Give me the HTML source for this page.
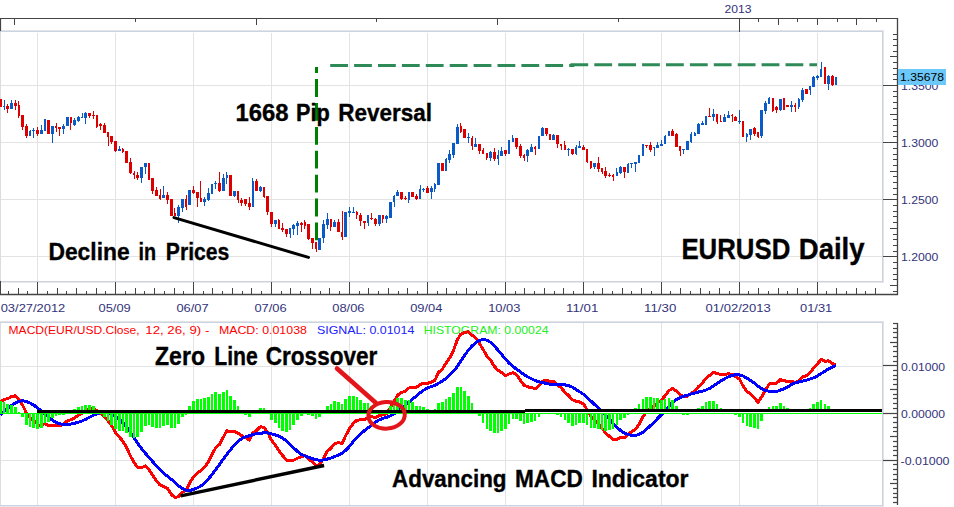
<!DOCTYPE html>
<html><head><meta charset="utf-8"><style>
html,body{margin:0;padding:0;background:#fff;width:954px;height:507px;overflow:hidden}
svg{display:block;font-family:"Liberation Sans",sans-serif}
</style></head><body>
<svg width="954" height="507" viewBox="0 0 954 507">
<rect width="954" height="507" fill="#fff"/>
<rect x="0" y="30" width="884" height="1" fill="#e4e4e4"/><rect x="883" y="30" width="1" height="253" fill="#e4e4e4"/>
<rect x="0" y="31" width="883" height="1" fill="#c9d3e3"/><rect x="882" y="31" width="1" height="251" fill="#c9d3e3"/><rect x="0" y="281" width="883" height="1" fill="#c9d3e3"/><rect x="0" y="282" width="884" height="1" fill="#e8e8e8"/>
<rect x="0" y="32" width="1" height="249" fill="#dcdcdc"/>
<rect x="0" y="281" width="1" height="14" fill="#444444"/>
<line x1="37.5" y1="33" x2="37.5" y2="281" stroke="#e3e3e3" stroke-width="1"/>
<line x1="115.5" y1="33" x2="115.5" y2="281" stroke="#e3e3e3" stroke-width="1"/>
<line x1="193.5" y1="33" x2="193.5" y2="281" stroke="#e3e3e3" stroke-width="1"/>
<line x1="271.5" y1="33" x2="271.5" y2="281" stroke="#e3e3e3" stroke-width="1"/>
<line x1="349.5" y1="33" x2="349.5" y2="281" stroke="#e3e3e3" stroke-width="1"/>
<line x1="427.5" y1="33" x2="427.5" y2="281" stroke="#e3e3e3" stroke-width="1"/>
<line x1="505.5" y1="33" x2="505.5" y2="281" stroke="#e3e3e3" stroke-width="1"/>
<line x1="583.5" y1="33" x2="583.5" y2="281" stroke="#e3e3e3" stroke-width="1"/>
<line x1="661.5" y1="33" x2="661.5" y2="281" stroke="#e3e3e3" stroke-width="1"/>
<line x1="739.5" y1="33" x2="739.5" y2="281" stroke="#e3e3e3" stroke-width="1"/>
<line x1="817.5" y1="33" x2="817.5" y2="281" stroke="#e3e3e3" stroke-width="1"/>
<line x1="1" y1="85.5" x2="882" y2="85.5" stroke="#e3e3e3" stroke-width="1"/>
<line x1="1" y1="142.5" x2="882" y2="142.5" stroke="#e3e3e3" stroke-width="1"/>
<line x1="1" y1="199.5" x2="882" y2="199.5" stroke="#e3e3e3" stroke-width="1"/>
<line x1="1" y1="256.5" x2="882" y2="256.5" stroke="#e3e3e3" stroke-width="1"/>
<line x1="0" y1="18.5" x2="898" y2="18.5" stroke="#444444" stroke-width="1.2"/>
<line x1="0.5" y1="18" x2="0.5" y2="31" stroke="#444444" stroke-width="1.2"/>
<rect x="14" y="18" width="1" height="7" fill="#444444"/>
<rect x="135" y="18" width="1" height="4" fill="#444444"/>
<rect x="256" y="18" width="1" height="7" fill="#444444"/>
<rect x="376" y="18" width="1" height="4" fill="#444444"/>
<rect x="497" y="18" width="1" height="7" fill="#444444"/>
<rect x="618" y="18" width="1" height="4" fill="#444444"/>
<rect x="739" y="18" width="1" height="14" fill="#444444"/>
<rect x="758" y="18" width="1" height="4" fill="#444444"/>
<rect x="778" y="18" width="1" height="7" fill="#444444"/>
<rect x="797" y="18" width="1" height="4" fill="#444444"/>
<rect x="817" y="18" width="1" height="7" fill="#444444"/>
<rect x="837" y="18" width="1" height="4" fill="#444444"/>
<rect x="856" y="18" width="1" height="7" fill="#444444"/>
<rect x="876" y="18" width="1" height="4" fill="#444444"/>
<text x="738" y="12.6" font-size="11" fill="#33337a" text-anchor="middle" textLength="27" lengthAdjust="spacingAndGlyphs">2013</text>
<line x1="897.5" y1="18" x2="897.5" y2="295" stroke="#444444" stroke-width="1.3"/>
<rect x="893" y="291" width="5" height="1" fill="#444444"/>
<rect x="890" y="285" width="8" height="1" fill="#444444"/>
<rect x="893" y="279" width="5" height="1" fill="#444444"/>
<rect x="893" y="274" width="5" height="1" fill="#444444"/>
<rect x="893" y="268" width="5" height="1" fill="#444444"/>
<rect x="893" y="262" width="5" height="1" fill="#444444"/>
<rect x="883" y="256" width="15" height="1" fill="#444444"/>
<rect x="893" y="251" width="5" height="1" fill="#444444"/>
<rect x="893" y="245" width="5" height="1" fill="#444444"/>
<rect x="893" y="239" width="5" height="1" fill="#444444"/>
<rect x="893" y="234" width="5" height="1" fill="#444444"/>
<rect x="890" y="228" width="8" height="1" fill="#444444"/>
<rect x="893" y="222" width="5" height="1" fill="#444444"/>
<rect x="893" y="216" width="5" height="1" fill="#444444"/>
<rect x="893" y="211" width="5" height="1" fill="#444444"/>
<rect x="893" y="205" width="5" height="1" fill="#444444"/>
<rect x="883" y="199" width="15" height="1" fill="#444444"/>
<rect x="893" y="194" width="5" height="1" fill="#444444"/>
<rect x="893" y="188" width="5" height="1" fill="#444444"/>
<rect x="893" y="182" width="5" height="1" fill="#444444"/>
<rect x="893" y="176" width="5" height="1" fill="#444444"/>
<rect x="890" y="171" width="8" height="1" fill="#444444"/>
<rect x="893" y="165" width="5" height="1" fill="#444444"/>
<rect x="893" y="159" width="5" height="1" fill="#444444"/>
<rect x="893" y="154" width="5" height="1" fill="#444444"/>
<rect x="893" y="148" width="5" height="1" fill="#444444"/>
<rect x="883" y="142" width="15" height="1" fill="#444444"/>
<rect x="893" y="136" width="5" height="1" fill="#444444"/>
<rect x="893" y="131" width="5" height="1" fill="#444444"/>
<rect x="893" y="125" width="5" height="1" fill="#444444"/>
<rect x="893" y="119" width="5" height="1" fill="#444444"/>
<rect x="890" y="114" width="8" height="1" fill="#444444"/>
<rect x="893" y="108" width="5" height="1" fill="#444444"/>
<rect x="893" y="102" width="5" height="1" fill="#444444"/>
<rect x="893" y="96" width="5" height="1" fill="#444444"/>
<rect x="893" y="91" width="5" height="1" fill="#444444"/>
<rect x="883" y="85" width="15" height="1" fill="#444444"/>
<rect x="893" y="79" width="5" height="1" fill="#444444"/>
<rect x="893" y="74" width="5" height="1" fill="#444444"/>
<rect x="893" y="68" width="5" height="1" fill="#444444"/>
<rect x="893" y="62" width="5" height="1" fill="#444444"/>
<rect x="890" y="56" width="8" height="1" fill="#444444"/>
<rect x="893" y="51" width="5" height="1" fill="#444444"/>
<rect x="893" y="45" width="5" height="1" fill="#444444"/>
<rect x="893" y="39" width="5" height="1" fill="#444444"/>
<rect x="893" y="34" width="5" height="1" fill="#444444"/>
<text x="901" y="89.6" font-size="11" fill="#33337a" textLength="37.4" lengthAdjust="spacingAndGlyphs">1.3500</text>
<text x="901" y="146.79999999999998" font-size="11" fill="#33337a" textLength="37.4" lengthAdjust="spacingAndGlyphs">1.3000</text>
<text x="901" y="203.79999999999998" font-size="11" fill="#33337a" textLength="37.4" lengthAdjust="spacingAndGlyphs">1.2500</text>
<text x="901" y="261.1" font-size="11" fill="#33337a" textLength="37.4" lengthAdjust="spacingAndGlyphs">1.2000</text>
<rect x="898" y="69" width="48" height="16" fill="#6cc8f8"/>
<text x="900" y="81" font-size="11" fill="#000" textLength="44" lengthAdjust="spacingAndGlyphs">1.35678</text>
<line x1="0" y1="294.5" x2="898" y2="294.5" stroke="#444444" stroke-width="1.3"/>
<rect x="8" y="291" width="1" height="3" fill="#444444"/>
<rect x="18" y="288" width="1" height="6" fill="#444444"/>
<rect x="27" y="291" width="1" height="3" fill="#444444"/>
<rect x="37" y="282" width="1" height="12" fill="#444444"/>
<rect x="47" y="291" width="1" height="3" fill="#444444"/>
<rect x="57" y="288" width="1" height="6" fill="#444444"/>
<rect x="66" y="291" width="1" height="3" fill="#444444"/>
<rect x="76" y="288" width="1" height="6" fill="#444444"/>
<rect x="86" y="291" width="1" height="3" fill="#444444"/>
<rect x="96" y="288" width="1" height="6" fill="#444444"/>
<rect x="105" y="291" width="1" height="3" fill="#444444"/>
<rect x="115" y="282" width="1" height="12" fill="#444444"/>
<rect x="125" y="291" width="1" height="3" fill="#444444"/>
<rect x="135" y="288" width="1" height="6" fill="#444444"/>
<rect x="144" y="291" width="1" height="3" fill="#444444"/>
<rect x="154" y="288" width="1" height="6" fill="#444444"/>
<rect x="164" y="291" width="1" height="3" fill="#444444"/>
<rect x="174" y="288" width="1" height="6" fill="#444444"/>
<rect x="183" y="291" width="1" height="3" fill="#444444"/>
<rect x="193" y="282" width="1" height="12" fill="#444444"/>
<rect x="203" y="291" width="1" height="3" fill="#444444"/>
<rect x="212" y="288" width="1" height="6" fill="#444444"/>
<rect x="222" y="291" width="1" height="3" fill="#444444"/>
<rect x="232" y="288" width="1" height="6" fill="#444444"/>
<rect x="242" y="291" width="1" height="3" fill="#444444"/>
<rect x="251" y="288" width="1" height="6" fill="#444444"/>
<rect x="261" y="291" width="1" height="3" fill="#444444"/>
<rect x="271" y="282" width="1" height="12" fill="#444444"/>
<rect x="281" y="291" width="1" height="3" fill="#444444"/>
<rect x="290" y="288" width="1" height="6" fill="#444444"/>
<rect x="300" y="291" width="1" height="3" fill="#444444"/>
<rect x="310" y="288" width="1" height="6" fill="#444444"/>
<rect x="320" y="291" width="1" height="3" fill="#444444"/>
<rect x="329" y="288" width="1" height="6" fill="#444444"/>
<rect x="339" y="291" width="1" height="3" fill="#444444"/>
<rect x="349" y="282" width="1" height="12" fill="#444444"/>
<rect x="359" y="291" width="1" height="3" fill="#444444"/>
<rect x="368" y="288" width="1" height="6" fill="#444444"/>
<rect x="378" y="291" width="1" height="3" fill="#444444"/>
<rect x="388" y="288" width="1" height="6" fill="#444444"/>
<rect x="398" y="291" width="1" height="3" fill="#444444"/>
<rect x="407" y="288" width="1" height="6" fill="#444444"/>
<rect x="417" y="291" width="1" height="3" fill="#444444"/>
<rect x="427" y="282" width="1" height="12" fill="#444444"/>
<rect x="437" y="291" width="1" height="3" fill="#444444"/>
<rect x="446" y="288" width="1" height="6" fill="#444444"/>
<rect x="456" y="291" width="1" height="3" fill="#444444"/>
<rect x="466" y="288" width="1" height="6" fill="#444444"/>
<rect x="476" y="291" width="1" height="3" fill="#444444"/>
<rect x="485" y="288" width="1" height="6" fill="#444444"/>
<rect x="495" y="291" width="1" height="3" fill="#444444"/>
<rect x="505" y="282" width="1" height="12" fill="#444444"/>
<rect x="515" y="291" width="1" height="3" fill="#444444"/>
<rect x="524" y="288" width="1" height="6" fill="#444444"/>
<rect x="534" y="291" width="1" height="3" fill="#444444"/>
<rect x="544" y="288" width="1" height="6" fill="#444444"/>
<rect x="554" y="291" width="1" height="3" fill="#444444"/>
<rect x="563" y="288" width="1" height="6" fill="#444444"/>
<rect x="573" y="291" width="1" height="3" fill="#444444"/>
<rect x="583" y="282" width="1" height="12" fill="#444444"/>
<rect x="593" y="291" width="1" height="3" fill="#444444"/>
<rect x="602" y="288" width="1" height="6" fill="#444444"/>
<rect x="612" y="291" width="1" height="3" fill="#444444"/>
<rect x="622" y="288" width="1" height="6" fill="#444444"/>
<rect x="631" y="291" width="1" height="3" fill="#444444"/>
<rect x="641" y="288" width="1" height="6" fill="#444444"/>
<rect x="651" y="291" width="1" height="3" fill="#444444"/>
<rect x="661" y="282" width="1" height="12" fill="#444444"/>
<rect x="670" y="291" width="1" height="3" fill="#444444"/>
<rect x="680" y="288" width="1" height="6" fill="#444444"/>
<rect x="690" y="291" width="1" height="3" fill="#444444"/>
<rect x="700" y="288" width="1" height="6" fill="#444444"/>
<rect x="709" y="291" width="1" height="3" fill="#444444"/>
<rect x="719" y="288" width="1" height="6" fill="#444444"/>
<rect x="729" y="291" width="1" height="3" fill="#444444"/>
<rect x="739" y="282" width="1" height="12" fill="#444444"/>
<rect x="748" y="291" width="1" height="3" fill="#444444"/>
<rect x="758" y="288" width="1" height="6" fill="#444444"/>
<rect x="768" y="291" width="1" height="3" fill="#444444"/>
<rect x="778" y="288" width="1" height="6" fill="#444444"/>
<rect x="787" y="291" width="1" height="3" fill="#444444"/>
<rect x="797" y="288" width="1" height="6" fill="#444444"/>
<rect x="807" y="291" width="1" height="3" fill="#444444"/>
<rect x="817" y="282" width="1" height="12" fill="#444444"/>
<rect x="826" y="291" width="1" height="3" fill="#444444"/>
<rect x="836" y="288" width="1" height="6" fill="#444444"/>
<rect x="846" y="291" width="1" height="3" fill="#444444"/>
<rect x="856" y="288" width="1" height="6" fill="#444444"/>
<rect x="865" y="291" width="1" height="3" fill="#444444"/>
<rect x="875" y="288" width="1" height="6" fill="#444444"/>
<text x="0.7" y="312" font-size="11" fill="#33337a" textLength="64.6" lengthAdjust="spacingAndGlyphs">03/27/2012</text>
<text x="98.5" y="312" font-size="11" fill="#33337a" textLength="32.2" lengthAdjust="spacingAndGlyphs">05/09</text>
<text x="176.4" y="312" font-size="11" fill="#33337a" textLength="32.2" lengthAdjust="spacingAndGlyphs">06/07</text>
<text x="254.4" y="312" font-size="11" fill="#33337a" textLength="32.2" lengthAdjust="spacingAndGlyphs">07/06</text>
<text x="332.3" y="312" font-size="11" fill="#33337a" textLength="32.2" lengthAdjust="spacingAndGlyphs">08/06</text>
<text x="410.2" y="312" font-size="11" fill="#33337a" textLength="32.2" lengthAdjust="spacingAndGlyphs">09/04</text>
<text x="488.2" y="312" font-size="11" fill="#33337a" textLength="32.2" lengthAdjust="spacingAndGlyphs">10/03</text>
<text x="566.1" y="312" font-size="11" fill="#33337a" textLength="32.2" lengthAdjust="spacingAndGlyphs">11/01</text>
<text x="644.1" y="312" font-size="11" fill="#33337a" textLength="32.2" lengthAdjust="spacingAndGlyphs">11/30</text>
<text x="705.6" y="312" font-size="11" fill="#33337a" textLength="65.2" lengthAdjust="spacingAndGlyphs">01/02/2013</text>
<text x="800.0" y="312" font-size="11" fill="#33337a" textLength="32.2" lengthAdjust="spacingAndGlyphs">01/31</text>
<line x1="316.5" y1="67" x2="316.5" y2="241" stroke="#008000" stroke-width="3" stroke-dasharray="17.8 6.1" stroke-dashoffset="11.80"/>
<line x1="570.4" y1="64.7" x2="817" y2="64.7" stroke="#2e8b57" stroke-width="3" stroke-dasharray="17.8 6.1"/>
<line x1="330.2" y1="65.5" x2="574.3" y2="65.5" stroke="#2e8b57" stroke-width="3" stroke-dasharray="17.8 6.1"/>
<rect x="0" y="99" width="1" height="8" fill="#dd0000"/>
<rect x="-1" y="99" width="3" height="8" fill="#dd0000"/>
<rect x="4" y="100" width="1" height="10" fill="#0a5ac8"/>
<rect x="3" y="106" width="2" height="1" fill="#0a5ac8"/>
<rect x="7" y="104" width="1" height="9" fill="#dd0000"/>
<rect x="6" y="106" width="3" height="3" fill="#dd0000"/>
<rect x="11" y="100" width="1" height="9" fill="#0a5ac8"/>
<rect x="10" y="103" width="3" height="6" fill="#0a5ac8"/>
<rect x="15" y="100" width="1" height="10" fill="#dd0000"/>
<rect x="14" y="103" width="3" height="3" fill="#dd0000"/>
<rect x="18" y="101" width="1" height="17" fill="#dd0000"/>
<rect x="18" y="105" width="2" height="11" fill="#dd0000"/>
<rect x="22" y="115" width="1" height="15" fill="#dd0000"/>
<rect x="21" y="115" width="3" height="12" fill="#dd0000"/>
<rect x="26" y="124" width="1" height="14" fill="#dd0000"/>
<rect x="25" y="126" width="3" height="10" fill="#dd0000"/>
<rect x="30" y="130" width="1" height="6" fill="#0a5ac8"/>
<rect x="29" y="131" width="2" height="5" fill="#0a5ac8"/>
<rect x="33" y="128" width="1" height="10" fill="#0a5ac8"/>
<rect x="32" y="130" width="3" height="1" fill="#0a5ac8"/>
<rect x="37" y="127" width="1" height="9" fill="#dd0000"/>
<rect x="36" y="130" width="3" height="4" fill="#dd0000"/>
<rect x="41" y="125" width="1" height="9" fill="#0a5ac8"/>
<rect x="40" y="130" width="3" height="4" fill="#0a5ac8"/>
<rect x="44" y="119" width="1" height="12" fill="#0a5ac8"/>
<rect x="44" y="119" width="2" height="12" fill="#0a5ac8"/>
<rect x="48" y="120" width="1" height="14" fill="#dd0000"/>
<rect x="47" y="120" width="3" height="14" fill="#dd0000"/>
<rect x="52" y="126" width="1" height="17" fill="#0a5ac8"/>
<rect x="51" y="126" width="3" height="8" fill="#0a5ac8"/>
<rect x="56" y="123" width="1" height="9" fill="#dd0000"/>
<rect x="55" y="126" width="2" height="2" fill="#dd0000"/>
<rect x="59" y="127" width="1" height="9" fill="#dd0000"/>
<rect x="58" y="127" width="3" height="2" fill="#dd0000"/>
<rect x="63" y="124" width="1" height="10" fill="#0a5ac8"/>
<rect x="62" y="126" width="3" height="3" fill="#0a5ac8"/>
<rect x="67" y="117" width="1" height="9" fill="#0a5ac8"/>
<rect x="66" y="117" width="3" height="9" fill="#0a5ac8"/>
<rect x="70" y="117" width="1" height="13" fill="#dd0000"/>
<rect x="70" y="117" width="2" height="6" fill="#dd0000"/>
<rect x="74" y="118" width="1" height="8" fill="#0a5ac8"/>
<rect x="73" y="120" width="3" height="5" fill="#0a5ac8"/>
<rect x="78" y="116" width="1" height="6" fill="#0a5ac8"/>
<rect x="77" y="117" width="3" height="4" fill="#0a5ac8"/>
<rect x="82" y="113" width="1" height="5" fill="#0a5ac8"/>
<rect x="81" y="117" width="2" height="1" fill="#0a5ac8"/>
<rect x="85" y="112" width="1" height="12" fill="#0a5ac8"/>
<rect x="84" y="113" width="3" height="5" fill="#0a5ac8"/>
<rect x="89" y="113" width="1" height="5" fill="#dd0000"/>
<rect x="88" y="113" width="3" height="3" fill="#dd0000"/>
<rect x="93" y="111" width="1" height="8" fill="#dd0000"/>
<rect x="92" y="115" width="3" height="1" fill="#dd0000"/>
<rect x="96" y="115" width="1" height="13" fill="#dd0000"/>
<rect x="96" y="115" width="2" height="12" fill="#dd0000"/>
<rect x="100" y="123" width="1" height="7" fill="#dd0000"/>
<rect x="99" y="124" width="3" height="2" fill="#dd0000"/>
<rect x="104" y="123" width="1" height="10" fill="#dd0000"/>
<rect x="103" y="125" width="3" height="8" fill="#dd0000"/>
<rect x="108" y="132" width="1" height="14" fill="#dd0000"/>
<rect x="107" y="132" width="2" height="5" fill="#dd0000"/>
<rect x="111" y="136" width="1" height="8" fill="#dd0000"/>
<rect x="110" y="136" width="3" height="6" fill="#dd0000"/>
<rect x="115" y="141" width="1" height="11" fill="#dd0000"/>
<rect x="114" y="141" width="3" height="10" fill="#dd0000"/>
<rect x="119" y="146" width="1" height="5" fill="#0a5ac8"/>
<rect x="118" y="149" width="3" height="2" fill="#0a5ac8"/>
<rect x="122" y="148" width="1" height="5" fill="#dd0000"/>
<rect x="122" y="149" width="2" height="3" fill="#dd0000"/>
<rect x="126" y="151" width="1" height="12" fill="#dd0000"/>
<rect x="125" y="151" width="3" height="12" fill="#dd0000"/>
<rect x="130" y="158" width="1" height="16" fill="#dd0000"/>
<rect x="129" y="162" width="3" height="11" fill="#dd0000"/>
<rect x="134" y="171" width="1" height="8" fill="#dd0000"/>
<rect x="133" y="173" width="2" height="2" fill="#dd0000"/>
<rect x="137" y="172" width="1" height="8" fill="#dd0000"/>
<rect x="136" y="175" width="3" height="3" fill="#dd0000"/>
<rect x="141" y="167" width="1" height="16" fill="#0a5ac8"/>
<rect x="140" y="167" width="3" height="11" fill="#0a5ac8"/>
<rect x="145" y="163" width="1" height="11" fill="#0a5ac8"/>
<rect x="144" y="163" width="3" height="4" fill="#0a5ac8"/>
<rect x="148" y="163" width="1" height="17" fill="#dd0000"/>
<rect x="148" y="163" width="2" height="17" fill="#dd0000"/>
<rect x="152" y="178" width="1" height="16" fill="#dd0000"/>
<rect x="151" y="178" width="3" height="13" fill="#dd0000"/>
<rect x="156" y="187" width="1" height="9" fill="#dd0000"/>
<rect x="155" y="190" width="3" height="6" fill="#dd0000"/>
<rect x="160" y="189" width="1" height="11" fill="#dd0000"/>
<rect x="159" y="195" width="2" height="4" fill="#dd0000"/>
<rect x="163" y="186" width="1" height="12" fill="#0a5ac8"/>
<rect x="162" y="195" width="3" height="3" fill="#0a5ac8"/>
<rect x="167" y="192" width="1" height="12" fill="#dd0000"/>
<rect x="166" y="195" width="3" height="5" fill="#dd0000"/>
<rect x="171" y="199" width="1" height="17" fill="#dd0000"/>
<rect x="170" y="199" width="3" height="17" fill="#dd0000"/>
<rect x="174" y="208" width="1" height="8" fill="#dd0000"/>
<rect x="174" y="213" width="2" height="3" fill="#dd0000"/>
<rect x="178" y="205" width="1" height="18" fill="#0a5ac8"/>
<rect x="177" y="207" width="3" height="9" fill="#0a5ac8"/>
<rect x="182" y="199" width="1" height="13" fill="#0a5ac8"/>
<rect x="181" y="199" width="3" height="9" fill="#0a5ac8"/>
<rect x="186" y="195" width="1" height="15" fill="#dd0000"/>
<rect x="185" y="199" width="2" height="8" fill="#dd0000"/>
<rect x="189" y="190" width="1" height="15" fill="#0a5ac8"/>
<rect x="188" y="190" width="3" height="15" fill="#0a5ac8"/>
<rect x="193" y="186" width="1" height="8" fill="#dd0000"/>
<rect x="192" y="190" width="3" height="3" fill="#dd0000"/>
<rect x="197" y="192" width="1" height="15" fill="#dd0000"/>
<rect x="196" y="192" width="3" height="6" fill="#dd0000"/>
<rect x="200" y="181" width="1" height="21" fill="#dd0000"/>
<rect x="200" y="198" width="2" height="4" fill="#dd0000"/>
<rect x="204" y="197" width="1" height="9" fill="#0a5ac8"/>
<rect x="203" y="199" width="3" height="3" fill="#0a5ac8"/>
<rect x="208" y="188" width="1" height="13" fill="#0a5ac8"/>
<rect x="207" y="193" width="3" height="7" fill="#0a5ac8"/>
<rect x="212" y="184" width="1" height="10" fill="#0a5ac8"/>
<rect x="211" y="184" width="2" height="10" fill="#0a5ac8"/>
<rect x="215" y="181" width="1" height="8" fill="#0a5ac8"/>
<rect x="214" y="183" width="3" height="1" fill="#0a5ac8"/>
<rect x="219" y="172" width="1" height="20" fill="#dd0000"/>
<rect x="218" y="183" width="3" height="8" fill="#dd0000"/>
<rect x="223" y="174" width="1" height="17" fill="#0a5ac8"/>
<rect x="222" y="178" width="3" height="13" fill="#0a5ac8"/>
<rect x="226" y="172" width="1" height="12" fill="#0a5ac8"/>
<rect x="226" y="175" width="2" height="3" fill="#0a5ac8"/>
<rect x="230" y="175" width="1" height="21" fill="#dd0000"/>
<rect x="229" y="175" width="3" height="21" fill="#dd0000"/>
<rect x="234" y="191" width="1" height="6" fill="#0a5ac8"/>
<rect x="233" y="191" width="3" height="5" fill="#0a5ac8"/>
<rect x="238" y="191" width="1" height="12" fill="#dd0000"/>
<rect x="237" y="191" width="2" height="9" fill="#dd0000"/>
<rect x="241" y="198" width="1" height="8" fill="#dd0000"/>
<rect x="240" y="200" width="3" height="3" fill="#dd0000"/>
<rect x="245" y="199" width="1" height="7" fill="#dd0000"/>
<rect x="244" y="199" width="3" height="5" fill="#dd0000"/>
<rect x="249" y="197" width="1" height="13" fill="#dd0000"/>
<rect x="248" y="203" width="3" height="4" fill="#dd0000"/>
<rect x="252" y="178" width="1" height="29" fill="#0a5ac8"/>
<rect x="252" y="181" width="2" height="26" fill="#0a5ac8"/>
<rect x="256" y="179" width="1" height="12" fill="#dd0000"/>
<rect x="255" y="181" width="3" height="10" fill="#dd0000"/>
<rect x="260" y="186" width="1" height="6" fill="#0a5ac8"/>
<rect x="259" y="187" width="3" height="4" fill="#0a5ac8"/>
<rect x="264" y="187" width="1" height="11" fill="#dd0000"/>
<rect x="263" y="187" width="2" height="10" fill="#dd0000"/>
<rect x="267" y="196" width="1" height="19" fill="#dd0000"/>
<rect x="266" y="196" width="3" height="16" fill="#dd0000"/>
<rect x="271" y="212" width="1" height="15" fill="#dd0000"/>
<rect x="270" y="212" width="3" height="12" fill="#dd0000"/>
<rect x="275" y="220" width="1" height="7" fill="#0a5ac8"/>
<rect x="274" y="220" width="3" height="4" fill="#0a5ac8"/>
<rect x="278" y="219" width="1" height="10" fill="#dd0000"/>
<rect x="278" y="220" width="2" height="9" fill="#dd0000"/>
<rect x="282" y="223" width="1" height="9" fill="#dd0000"/>
<rect x="281" y="228" width="3" height="2" fill="#dd0000"/>
<rect x="286" y="229" width="1" height="8" fill="#dd0000"/>
<rect x="285" y="229" width="3" height="5" fill="#dd0000"/>
<rect x="290" y="228" width="1" height="10" fill="#0a5ac8"/>
<rect x="289" y="228" width="2" height="6" fill="#0a5ac8"/>
<rect x="293" y="224" width="1" height="11" fill="#0a5ac8"/>
<rect x="292" y="225" width="3" height="4" fill="#0a5ac8"/>
<rect x="297" y="221" width="1" height="14" fill="#0a5ac8"/>
<rect x="296" y="223" width="3" height="3" fill="#0a5ac8"/>
<rect x="301" y="222" width="1" height="10" fill="#dd0000"/>
<rect x="300" y="223" width="3" height="2" fill="#dd0000"/>
<rect x="304" y="220" width="1" height="9" fill="#dd0000"/>
<rect x="304" y="222" width="2" height="4" fill="#dd0000"/>
<rect x="308" y="224" width="1" height="16" fill="#dd0000"/>
<rect x="307" y="224" width="3" height="15" fill="#dd0000"/>
<rect x="312" y="238" width="1" height="11" fill="#dd0000"/>
<rect x="311" y="238" width="3" height="5" fill="#dd0000"/>
<rect x="316" y="242" width="1" height="10" fill="#dd0000"/>
<rect x="315" y="242" width="2" height="7" fill="#dd0000"/>
<rect x="319" y="238" width="1" height="12" fill="#0a5ac8"/>
<rect x="318" y="238" width="3" height="12" fill="#0a5ac8"/>
<rect x="323" y="220" width="1" height="23" fill="#0a5ac8"/>
<rect x="322" y="224" width="3" height="14" fill="#0a5ac8"/>
<rect x="327" y="213" width="1" height="16" fill="#0a5ac8"/>
<rect x="326" y="219" width="3" height="6" fill="#0a5ac8"/>
<rect x="330" y="219" width="1" height="12" fill="#dd0000"/>
<rect x="330" y="219" width="2" height="8" fill="#dd0000"/>
<rect x="334" y="220" width="1" height="7" fill="#0a5ac8"/>
<rect x="333" y="222" width="3" height="5" fill="#0a5ac8"/>
<rect x="338" y="219" width="1" height="13" fill="#dd0000"/>
<rect x="337" y="222" width="3" height="10" fill="#dd0000"/>
<rect x="342" y="211" width="1" height="29" fill="#dd0000"/>
<rect x="341" y="232" width="2" height="5" fill="#dd0000"/>
<rect x="345" y="212" width="1" height="25" fill="#0a5ac8"/>
<rect x="344" y="212" width="3" height="25" fill="#0a5ac8"/>
<rect x="349" y="207" width="1" height="10" fill="#0a5ac8"/>
<rect x="348" y="211" width="3" height="2" fill="#0a5ac8"/>
<rect x="353" y="207" width="1" height="6" fill="#0a5ac8"/>
<rect x="352" y="212" width="3" height="1" fill="#0a5ac8"/>
<rect x="356" y="211" width="1" height="8" fill="#dd0000"/>
<rect x="356" y="212" width="2" height="3" fill="#dd0000"/>
<rect x="360" y="213" width="1" height="13" fill="#dd0000"/>
<rect x="359" y="215" width="3" height="6" fill="#dd0000"/>
<rect x="364" y="221" width="1" height="8" fill="#dd0000"/>
<rect x="363" y="221" width="3" height="2" fill="#dd0000"/>
<rect x="368" y="215" width="1" height="11" fill="#0a5ac8"/>
<rect x="367" y="215" width="2" height="8" fill="#0a5ac8"/>
<rect x="371" y="213" width="1" height="7" fill="#dd0000"/>
<rect x="370" y="218" width="3" height="1" fill="#dd0000"/>
<rect x="375" y="218" width="1" height="8" fill="#dd0000"/>
<rect x="374" y="219" width="3" height="5" fill="#dd0000"/>
<rect x="379" y="215" width="1" height="11" fill="#0a5ac8"/>
<rect x="378" y="215" width="3" height="9" fill="#0a5ac8"/>
<rect x="382" y="215" width="1" height="8" fill="#dd0000"/>
<rect x="382" y="215" width="2" height="4" fill="#dd0000"/>
<rect x="386" y="215" width="1" height="8" fill="#0a5ac8"/>
<rect x="385" y="216" width="3" height="3" fill="#0a5ac8"/>
<rect x="390" y="202" width="1" height="16" fill="#0a5ac8"/>
<rect x="389" y="202" width="3" height="16" fill="#0a5ac8"/>
<rect x="394" y="195" width="1" height="12" fill="#0a5ac8"/>
<rect x="393" y="196" width="2" height="6" fill="#0a5ac8"/>
<rect x="397" y="190" width="1" height="6" fill="#0a5ac8"/>
<rect x="396" y="192" width="3" height="4" fill="#0a5ac8"/>
<rect x="401" y="192" width="1" height="8" fill="#dd0000"/>
<rect x="400" y="192" width="3" height="7" fill="#dd0000"/>
<rect x="405" y="196" width="1" height="4" fill="#dd0000"/>
<rect x="404" y="198" width="3" height="1" fill="#dd0000"/>
<rect x="408" y="192" width="1" height="11" fill="#0a5ac8"/>
<rect x="408" y="192" width="2" height="8" fill="#0a5ac8"/>
<rect x="412" y="192" width="1" height="5" fill="#dd0000"/>
<rect x="411" y="192" width="3" height="5" fill="#dd0000"/>
<rect x="416" y="194" width="1" height="6" fill="#dd0000"/>
<rect x="415" y="196" width="3" height="3" fill="#dd0000"/>
<rect x="420" y="185" width="1" height="14" fill="#0a5ac8"/>
<rect x="419" y="189" width="2" height="10" fill="#0a5ac8"/>
<rect x="423" y="188" width="1" height="4" fill="#0a5ac8"/>
<rect x="422" y="189" width="3" height="1" fill="#0a5ac8"/>
<rect x="427" y="186" width="1" height="7" fill="#dd0000"/>
<rect x="426" y="188" width="3" height="5" fill="#dd0000"/>
<rect x="431" y="186" width="1" height="13" fill="#0a5ac8"/>
<rect x="430" y="188" width="3" height="4" fill="#0a5ac8"/>
<rect x="434" y="183" width="1" height="9" fill="#0a5ac8"/>
<rect x="434" y="184" width="2" height="5" fill="#0a5ac8"/>
<rect x="438" y="163" width="1" height="22" fill="#0a5ac8"/>
<rect x="437" y="163" width="3" height="22" fill="#0a5ac8"/>
<rect x="442" y="163" width="1" height="8" fill="#dd0000"/>
<rect x="441" y="163" width="3" height="8" fill="#dd0000"/>
<rect x="446" y="158" width="1" height="13" fill="#0a5ac8"/>
<rect x="445" y="159" width="2" height="12" fill="#0a5ac8"/>
<rect x="449" y="150" width="1" height="13" fill="#0a5ac8"/>
<rect x="448" y="154" width="3" height="6" fill="#0a5ac8"/>
<rect x="453" y="143" width="1" height="15" fill="#0a5ac8"/>
<rect x="452" y="143" width="3" height="12" fill="#0a5ac8"/>
<rect x="457" y="124" width="1" height="20" fill="#0a5ac8"/>
<rect x="456" y="127" width="3" height="17" fill="#0a5ac8"/>
<rect x="460" y="123" width="1" height="10" fill="#dd0000"/>
<rect x="460" y="126" width="2" height="6" fill="#dd0000"/>
<rect x="464" y="129" width="1" height="9" fill="#dd0000"/>
<rect x="463" y="129" width="3" height="9" fill="#dd0000"/>
<rect x="468" y="133" width="1" height="10" fill="#0a5ac8"/>
<rect x="467" y="137" width="3" height="1" fill="#0a5ac8"/>
<rect x="472" y="136" width="1" height="14" fill="#dd0000"/>
<rect x="471" y="138" width="2" height="8" fill="#dd0000"/>
<rect x="475" y="138" width="1" height="9" fill="#0a5ac8"/>
<rect x="474" y="144" width="3" height="3" fill="#0a5ac8"/>
<rect x="479" y="144" width="1" height="10" fill="#dd0000"/>
<rect x="478" y="144" width="3" height="7" fill="#dd0000"/>
<rect x="483" y="148" width="1" height="6" fill="#dd0000"/>
<rect x="482" y="150" width="2" height="4" fill="#dd0000"/>
<rect x="486" y="153" width="1" height="7" fill="#dd0000"/>
<rect x="486" y="153" width="2" height="5" fill="#dd0000"/>
<rect x="490" y="151" width="1" height="10" fill="#0a5ac8"/>
<rect x="489" y="152" width="3" height="6" fill="#0a5ac8"/>
<rect x="494" y="148" width="1" height="13" fill="#dd0000"/>
<rect x="493" y="152" width="3" height="7" fill="#dd0000"/>
<rect x="498" y="150" width="1" height="15" fill="#0a5ac8"/>
<rect x="497" y="155" width="2" height="4" fill="#0a5ac8"/>
<rect x="501" y="147" width="1" height="9" fill="#0a5ac8"/>
<rect x="500" y="151" width="3" height="5" fill="#0a5ac8"/>
<rect x="505" y="150" width="1" height="6" fill="#dd0000"/>
<rect x="504" y="150" width="3" height="4" fill="#dd0000"/>
<rect x="509" y="140" width="1" height="14" fill="#0a5ac8"/>
<rect x="508" y="140" width="2" height="14" fill="#0a5ac8"/>
<rect x="512" y="135" width="1" height="7" fill="#0a5ac8"/>
<rect x="512" y="138" width="2" height="4" fill="#0a5ac8"/>
<rect x="516" y="138" width="1" height="11" fill="#dd0000"/>
<rect x="515" y="138" width="3" height="9" fill="#dd0000"/>
<rect x="520" y="144" width="1" height="14" fill="#dd0000"/>
<rect x="519" y="146" width="3" height="10" fill="#dd0000"/>
<rect x="524" y="154" width="1" height="7" fill="#dd0000"/>
<rect x="523" y="155" width="2" height="3" fill="#dd0000"/>
<rect x="527" y="149" width="1" height="13" fill="#0a5ac8"/>
<rect x="526" y="150" width="3" height="6" fill="#0a5ac8"/>
<rect x="531" y="144" width="1" height="8" fill="#0a5ac8"/>
<rect x="530" y="147" width="3" height="5" fill="#0a5ac8"/>
<rect x="535" y="146" width="1" height="9" fill="#dd0000"/>
<rect x="534" y="147" width="2" height="2" fill="#dd0000"/>
<rect x="538" y="136" width="1" height="13" fill="#0a5ac8"/>
<rect x="538" y="136" width="2" height="13" fill="#0a5ac8"/>
<rect x="542" y="127" width="1" height="9" fill="#0a5ac8"/>
<rect x="541" y="128" width="3" height="8" fill="#0a5ac8"/>
<rect x="546" y="128" width="1" height="8" fill="#dd0000"/>
<rect x="545" y="128" width="3" height="6" fill="#dd0000"/>
<rect x="550" y="134" width="1" height="6" fill="#dd0000"/>
<rect x="549" y="134" width="2" height="6" fill="#dd0000"/>
<rect x="553" y="134" width="1" height="6" fill="#0a5ac8"/>
<rect x="552" y="135" width="3" height="5" fill="#0a5ac8"/>
<rect x="557" y="135" width="1" height="13" fill="#dd0000"/>
<rect x="556" y="135" width="3" height="9" fill="#dd0000"/>
<rect x="561" y="144" width="1" height="6" fill="#dd0000"/>
<rect x="560" y="144" width="2" height="2" fill="#dd0000"/>
<rect x="564" y="141" width="1" height="9" fill="#dd0000"/>
<rect x="564" y="145" width="2" height="5" fill="#dd0000"/>
<rect x="568" y="148" width="1" height="8" fill="#0a5ac8"/>
<rect x="567" y="149" width="3" height="1" fill="#0a5ac8"/>
<rect x="572" y="149" width="1" height="6" fill="#dd0000"/>
<rect x="571" y="149" width="3" height="5" fill="#dd0000"/>
<rect x="576" y="145" width="1" height="10" fill="#0a5ac8"/>
<rect x="575" y="147" width="2" height="7" fill="#0a5ac8"/>
<rect x="579" y="141" width="1" height="7" fill="#0a5ac8"/>
<rect x="578" y="146" width="3" height="2" fill="#0a5ac8"/>
<rect x="583" y="145" width="1" height="5" fill="#dd0000"/>
<rect x="582" y="147" width="3" height="3" fill="#dd0000"/>
<rect x="587" y="149" width="1" height="14" fill="#dd0000"/>
<rect x="586" y="149" width="2" height="13" fill="#dd0000"/>
<rect x="590" y="161" width="1" height="8" fill="#dd0000"/>
<rect x="590" y="161" width="2" height="7" fill="#dd0000"/>
<rect x="594" y="163" width="1" height="6" fill="#0a5ac8"/>
<rect x="593" y="163" width="3" height="4" fill="#0a5ac8"/>
<rect x="598" y="157" width="1" height="15" fill="#dd0000"/>
<rect x="597" y="163" width="3" height="6" fill="#dd0000"/>
<rect x="602" y="168" width="1" height="6" fill="#dd0000"/>
<rect x="601" y="168" width="2" height="4" fill="#dd0000"/>
<rect x="605" y="167" width="1" height="11" fill="#dd0000"/>
<rect x="604" y="171" width="3" height="5" fill="#dd0000"/>
<rect x="609" y="173" width="1" height="4" fill="#dd0000"/>
<rect x="608" y="175" width="3" height="1" fill="#dd0000"/>
<rect x="613" y="174" width="1" height="7" fill="#dd0000"/>
<rect x="612" y="175" width="2" height="2" fill="#dd0000"/>
<rect x="616" y="168" width="1" height="8" fill="#0a5ac8"/>
<rect x="616" y="172" width="2" height="4" fill="#0a5ac8"/>
<rect x="620" y="166" width="1" height="8" fill="#0a5ac8"/>
<rect x="619" y="167" width="3" height="6" fill="#0a5ac8"/>
<rect x="624" y="167" width="1" height="11" fill="#dd0000"/>
<rect x="623" y="167" width="3" height="5" fill="#dd0000"/>
<rect x="628" y="163" width="1" height="10" fill="#0a5ac8"/>
<rect x="627" y="164" width="2" height="9" fill="#0a5ac8"/>
<rect x="631" y="163" width="1" height="5" fill="#0a5ac8"/>
<rect x="630" y="163" width="3" height="1" fill="#0a5ac8"/>
<rect x="635" y="162" width="1" height="10" fill="#0a5ac8"/>
<rect x="634" y="162" width="3" height="2" fill="#0a5ac8"/>
<rect x="639" y="155" width="1" height="8" fill="#0a5ac8"/>
<rect x="638" y="155" width="2" height="8" fill="#0a5ac8"/>
<rect x="642" y="144" width="1" height="12" fill="#0a5ac8"/>
<rect x="642" y="144" width="2" height="12" fill="#0a5ac8"/>
<rect x="646" y="145" width="1" height="3" fill="#dd0000"/>
<rect x="645" y="145" width="3" height="1" fill="#dd0000"/>
<rect x="650" y="142" width="1" height="10" fill="#dd0000"/>
<rect x="649" y="145" width="3" height="5" fill="#dd0000"/>
<rect x="654" y="147" width="1" height="9" fill="#0a5ac8"/>
<rect x="653" y="147" width="2" height="1" fill="#0a5ac8"/>
<rect x="657" y="142" width="1" height="6" fill="#0a5ac8"/>
<rect x="656" y="145" width="3" height="3" fill="#0a5ac8"/>
<rect x="661" y="140" width="1" height="6" fill="#0a5ac8"/>
<rect x="660" y="144" width="3" height="2" fill="#0a5ac8"/>
<rect x="665" y="135" width="1" height="9" fill="#0a5ac8"/>
<rect x="664" y="136" width="2" height="8" fill="#0a5ac8"/>
<rect x="668" y="131" width="1" height="5" fill="#0a5ac8"/>
<rect x="668" y="131" width="2" height="5" fill="#0a5ac8"/>
<rect x="672" y="129" width="1" height="7" fill="#dd0000"/>
<rect x="671" y="131" width="3" height="5" fill="#dd0000"/>
<rect x="676" y="133" width="1" height="14" fill="#dd0000"/>
<rect x="675" y="134" width="3" height="13" fill="#dd0000"/>
<rect x="680" y="146" width="1" height="10" fill="#dd0000"/>
<rect x="679" y="146" width="2" height="5" fill="#dd0000"/>
<rect x="683" y="149" width="1" height="5" fill="#0a5ac8"/>
<rect x="682" y="149" width="3" height="1" fill="#0a5ac8"/>
<rect x="687" y="141" width="1" height="9" fill="#0a5ac8"/>
<rect x="686" y="141" width="3" height="9" fill="#0a5ac8"/>
<rect x="691" y="132" width="1" height="11" fill="#0a5ac8"/>
<rect x="690" y="134" width="2" height="8" fill="#0a5ac8"/>
<rect x="694" y="132" width="1" height="4" fill="#0a5ac8"/>
<rect x="694" y="133" width="2" height="3" fill="#0a5ac8"/>
<rect x="698" y="123" width="1" height="11" fill="#0a5ac8"/>
<rect x="697" y="124" width="3" height="10" fill="#0a5ac8"/>
<rect x="702" y="121" width="1" height="4" fill="#0a5ac8"/>
<rect x="701" y="123" width="3" height="2" fill="#0a5ac8"/>
<rect x="706" y="116" width="1" height="9" fill="#0a5ac8"/>
<rect x="705" y="116" width="2" height="9" fill="#0a5ac8"/>
<rect x="709" y="108" width="1" height="9" fill="#dd0000"/>
<rect x="708" y="116" width="3" height="1" fill="#dd0000"/>
<rect x="713" y="109" width="1" height="12" fill="#0a5ac8"/>
<rect x="712" y="114" width="3" height="3" fill="#0a5ac8"/>
<rect x="717" y="114" width="1" height="10" fill="#dd0000"/>
<rect x="716" y="114" width="2" height="8" fill="#dd0000"/>
<rect x="720" y="115" width="1" height="7" fill="#dd0000"/>
<rect x="720" y="121" width="2" height="1" fill="#dd0000"/>
<rect x="724" y="114" width="1" height="8" fill="#0a5ac8"/>
<rect x="723" y="117" width="3" height="5" fill="#0a5ac8"/>
<rect x="728" y="111" width="1" height="7" fill="#0a5ac8"/>
<rect x="727" y="115" width="3" height="3" fill="#0a5ac8"/>
<rect x="732" y="114" width="1" height="8" fill="#dd0000"/>
<rect x="731" y="115" width="2" height="1" fill="#dd0000"/>
<rect x="735" y="116" width="1" height="5" fill="#dd0000"/>
<rect x="734" y="117" width="3" height="4" fill="#dd0000"/>
<rect x="739" y="110" width="1" height="14" fill="#0a5ac8"/>
<rect x="738" y="121" width="3" height="1" fill="#0a5ac8"/>
<rect x="743" y="121" width="1" height="16" fill="#dd0000"/>
<rect x="742" y="121" width="2" height="16" fill="#dd0000"/>
<rect x="746" y="133" width="1" height="9" fill="#0a5ac8"/>
<rect x="746" y="134" width="2" height="3" fill="#0a5ac8"/>
<rect x="750" y="129" width="1" height="11" fill="#0a5ac8"/>
<rect x="749" y="129" width="3" height="6" fill="#0a5ac8"/>
<rect x="754" y="127" width="1" height="9" fill="#dd0000"/>
<rect x="753" y="128" width="3" height="6" fill="#dd0000"/>
<rect x="758" y="132" width="1" height="6" fill="#dd0000"/>
<rect x="757" y="132" width="2" height="5" fill="#dd0000"/>
<rect x="761" y="110" width="1" height="28" fill="#0a5ac8"/>
<rect x="760" y="110" width="3" height="26" fill="#0a5ac8"/>
<rect x="765" y="101" width="1" height="13" fill="#0a5ac8"/>
<rect x="764" y="103" width="3" height="8" fill="#0a5ac8"/>
<rect x="769" y="97" width="1" height="7" fill="#0a5ac8"/>
<rect x="768" y="98" width="2" height="6" fill="#0a5ac8"/>
<rect x="772" y="98" width="1" height="14" fill="#dd0000"/>
<rect x="772" y="98" width="2" height="13" fill="#dd0000"/>
<rect x="776" y="106" width="1" height="7" fill="#dd0000"/>
<rect x="775" y="107" width="3" height="3" fill="#dd0000"/>
<rect x="780" y="99" width="1" height="12" fill="#0a5ac8"/>
<rect x="779" y="99" width="3" height="11" fill="#0a5ac8"/>
<rect x="784" y="98" width="1" height="12" fill="#dd0000"/>
<rect x="783" y="98" width="2" height="12" fill="#dd0000"/>
<rect x="787" y="105" width="1" height="2" fill="#dd0000"/>
<rect x="786" y="105" width="3" height="2" fill="#dd0000"/>
<rect x="791" y="101" width="1" height="11" fill="#0a5ac8"/>
<rect x="790" y="105" width="3" height="2" fill="#0a5ac8"/>
<rect x="795" y="103" width="1" height="9" fill="#dd0000"/>
<rect x="794" y="105" width="2" height="2" fill="#dd0000"/>
<rect x="798" y="98" width="1" height="11" fill="#0a5ac8"/>
<rect x="798" y="99" width="2" height="8" fill="#0a5ac8"/>
<rect x="802" y="88" width="1" height="14" fill="#0a5ac8"/>
<rect x="801" y="90" width="3" height="10" fill="#0a5ac8"/>
<rect x="806" y="89" width="1" height="5" fill="#dd0000"/>
<rect x="805" y="89" width="3" height="5" fill="#dd0000"/>
<rect x="810" y="86" width="1" height="9" fill="#0a5ac8"/>
<rect x="809" y="86" width="2" height="4" fill="#0a5ac8"/>
<rect x="813" y="76" width="1" height="11" fill="#0a5ac8"/>
<rect x="812" y="77" width="3" height="10" fill="#0a5ac8"/>
<rect x="817" y="75" width="1" height="5" fill="#0a5ac8"/>
<rect x="816" y="76" width="3" height="2" fill="#0a5ac8"/>
<rect x="821" y="62" width="1" height="15" fill="#0a5ac8"/>
<rect x="820" y="69" width="2" height="8" fill="#0a5ac8"/>
<rect x="824" y="67" width="1" height="17" fill="#dd0000"/>
<rect x="824" y="67" width="2" height="17" fill="#dd0000"/>
<rect x="828" y="75" width="1" height="15" fill="#0a5ac8"/>
<rect x="827" y="76" width="3" height="8" fill="#0a5ac8"/>
<rect x="832" y="75" width="1" height="11" fill="#dd0000"/>
<rect x="831" y="76" width="3" height="9" fill="#dd0000"/>
<rect x="836" y="77" width="1" height="8" fill="#0a5ac8"/>
<rect x="835" y="77" width="2" height="8" fill="#0a5ac8"/>
<line x1="174" y1="217.6" x2="308.5" y2="257.4" stroke="#000" stroke-width="3" stroke-linecap="round"/>
<rect x="0" y="321" width="884" height="1" fill="#e4e4e4"/><rect x="883" y="321" width="1" height="186" fill="#e4e4e4"/>
<rect x="0" y="322" width="883" height="1" fill="#c9d3e3"/><rect x="882" y="322" width="1" height="185" fill="#c9d3e3"/><rect x="0" y="505" width="883" height="1" fill="#c9d3e3"/><rect x="0" y="506" width="884" height="1" fill="#e8e8e8"/>
<rect x="0" y="323" width="1" height="182" fill="#dcdcdc"/>
<line x1="37.5" y1="323" x2="37.5" y2="505" stroke="#e3e3e3" stroke-width="1"/>
<line x1="115.5" y1="323" x2="115.5" y2="505" stroke="#e3e3e3" stroke-width="1"/>
<line x1="193.5" y1="323" x2="193.5" y2="505" stroke="#e3e3e3" stroke-width="1"/>
<line x1="271.5" y1="323" x2="271.5" y2="505" stroke="#e3e3e3" stroke-width="1"/>
<line x1="349.5" y1="323" x2="349.5" y2="505" stroke="#e3e3e3" stroke-width="1"/>
<line x1="427.5" y1="323" x2="427.5" y2="505" stroke="#e3e3e3" stroke-width="1"/>
<line x1="505.5" y1="323" x2="505.5" y2="505" stroke="#e3e3e3" stroke-width="1"/>
<line x1="583.5" y1="323" x2="583.5" y2="505" stroke="#e3e3e3" stroke-width="1"/>
<line x1="661.5" y1="323" x2="661.5" y2="505" stroke="#e3e3e3" stroke-width="1"/>
<line x1="739.5" y1="323" x2="739.5" y2="505" stroke="#e3e3e3" stroke-width="1"/>
<line x1="817.5" y1="323" x2="817.5" y2="505" stroke="#e3e3e3" stroke-width="1"/>
<line x1="1" y1="366.5" x2="882" y2="366.5" stroke="#e3e3e3" stroke-width="1"/>
<line x1="1" y1="460.5" x2="882" y2="460.5" stroke="#e3e3e3" stroke-width="1"/>
<line x1="897.5" y1="323" x2="897.5" y2="505" stroke="#444444" stroke-width="1.3"/>
<line x1="893" y1="502.5" x2="898" y2="502.5" stroke="#444444" stroke-width="1.2"/>
<line x1="893" y1="497.5" x2="898" y2="497.5" stroke="#444444" stroke-width="1.2"/>
<line x1="893" y1="493.5" x2="898" y2="493.5" stroke="#444444" stroke-width="1.2"/>
<line x1="893" y1="488.5" x2="898" y2="488.5" stroke="#444444" stroke-width="1.2"/>
<line x1="890" y1="483.5" x2="898" y2="483.5" stroke="#444444" stroke-width="1.2"/>
<line x1="893" y1="479.5" x2="898" y2="479.5" stroke="#444444" stroke-width="1.2"/>
<line x1="893" y1="474.5" x2="898" y2="474.5" stroke="#444444" stroke-width="1.2"/>
<line x1="893" y1="469.5" x2="898" y2="469.5" stroke="#444444" stroke-width="1.2"/>
<line x1="893" y1="464.5" x2="898" y2="464.5" stroke="#444444" stroke-width="1.2"/>
<line x1="883" y1="460.5" x2="898" y2="460.5" stroke="#444444" stroke-width="1.2"/>
<line x1="893" y1="455.5" x2="898" y2="455.5" stroke="#444444" stroke-width="1.2"/>
<line x1="893" y1="450.5" x2="898" y2="450.5" stroke="#444444" stroke-width="1.2"/>
<line x1="893" y1="446.5" x2="898" y2="446.5" stroke="#444444" stroke-width="1.2"/>
<line x1="893" y1="441.5" x2="898" y2="441.5" stroke="#444444" stroke-width="1.2"/>
<line x1="890" y1="436.5" x2="898" y2="436.5" stroke="#444444" stroke-width="1.2"/>
<line x1="893" y1="431.5" x2="898" y2="431.5" stroke="#444444" stroke-width="1.2"/>
<line x1="893" y1="427.5" x2="898" y2="427.5" stroke="#444444" stroke-width="1.2"/>
<line x1="893" y1="422.5" x2="898" y2="422.5" stroke="#444444" stroke-width="1.2"/>
<line x1="893" y1="417.5" x2="898" y2="417.5" stroke="#444444" stroke-width="1.2"/>
<line x1="883" y1="413.5" x2="898" y2="413.5" stroke="#444444" stroke-width="1.2"/>
<line x1="893" y1="408.5" x2="898" y2="408.5" stroke="#444444" stroke-width="1.2"/>
<line x1="893" y1="403.5" x2="898" y2="403.5" stroke="#444444" stroke-width="1.2"/>
<line x1="893" y1="398.5" x2="898" y2="398.5" stroke="#444444" stroke-width="1.2"/>
<line x1="893" y1="394.5" x2="898" y2="394.5" stroke="#444444" stroke-width="1.2"/>
<line x1="890" y1="389.5" x2="898" y2="389.5" stroke="#444444" stroke-width="1.2"/>
<line x1="893" y1="384.5" x2="898" y2="384.5" stroke="#444444" stroke-width="1.2"/>
<line x1="893" y1="379.5" x2="898" y2="379.5" stroke="#444444" stroke-width="1.2"/>
<line x1="893" y1="375.5" x2="898" y2="375.5" stroke="#444444" stroke-width="1.2"/>
<line x1="893" y1="370.5" x2="898" y2="370.5" stroke="#444444" stroke-width="1.2"/>
<line x1="883" y1="365.5" x2="898" y2="365.5" stroke="#444444" stroke-width="1.2"/>
<line x1="893" y1="361.5" x2="898" y2="361.5" stroke="#444444" stroke-width="1.2"/>
<line x1="893" y1="356.5" x2="898" y2="356.5" stroke="#444444" stroke-width="1.2"/>
<line x1="893" y1="351.5" x2="898" y2="351.5" stroke="#444444" stroke-width="1.2"/>
<line x1="893" y1="346.5" x2="898" y2="346.5" stroke="#444444" stroke-width="1.2"/>
<line x1="890" y1="342.5" x2="898" y2="342.5" stroke="#444444" stroke-width="1.2"/>
<line x1="893" y1="337.5" x2="898" y2="337.5" stroke="#444444" stroke-width="1.2"/>
<line x1="893" y1="332.5" x2="898" y2="332.5" stroke="#444444" stroke-width="1.2"/>
<line x1="893" y1="328.5" x2="898" y2="328.5" stroke="#444444" stroke-width="1.2"/>
<line x1="893" y1="323.5" x2="898" y2="323.5" stroke="#444444" stroke-width="1.2"/>
<text x="901" y="370.8" font-size="11" fill="#33337a" textLength="44" lengthAdjust="spacingAndGlyphs">0.01000</text>
<text x="901" y="417.6" font-size="11" fill="#33337a" textLength="44" lengthAdjust="spacingAndGlyphs">0.00000</text>
<text x="900.5" y="465.20000000000005" font-size="11" fill="#33337a" textLength="49" lengthAdjust="spacingAndGlyphs">-0.01000</text>
<text x="8.6" y="333.6" font-size="11" fill="#ff0000" textLength="131" lengthAdjust="spacingAndGlyphs">MACD(EUR/USD.Close,</text>
<text x="145.3" y="333.6" font-size="11" fill="#ff0000" textLength="64" lengthAdjust="spacingAndGlyphs">12, 26, 9) -</text>
<text x="218.9" y="333.6" font-size="11" fill="#ff0000" textLength="88" lengthAdjust="spacingAndGlyphs">MACD: 0.01038</text>
<text x="316.9" y="333.6" font-size="11" fill="#2222ff" textLength="97.5" lengthAdjust="spacingAndGlyphs">SIGNAL: 0.01014</text>
<text x="423.7" y="333.6" font-size="11" fill="#22ee22" textLength="124.8" lengthAdjust="spacingAndGlyphs">HISTOGRAM: 0.00024</text>
<polyline points="0.4,401.7 4.1,399.4 7.8,398.7 11.5,396.5 15.2,395.9 18.9,399.0 22.6,405.2 26.4,413.0 30.1,417.5 33.8,420.6 37.5,424.3 41.2,425.9 44.9,423.4 48.6,426.0 52.4,425.5 56.1,425.5 59.8,425.6 63.5,424.6 67.2,420.9 70.9,419.8 74.6,417.9 78.4,415.2 82.1,413.1 85.8,410.2 89.5,408.8 93.2,407.8 96.9,410.8 100.6,412.8 104.4,416.6 108.1,420.9 111.8,425.8 115.5,432.6 119.2,437.0 122.9,441.2 126.6,447.6 130.3,455.8 134.1,462.3 137.8,467.7 141.5,467.8 145.2,465.9 148.9,469.6 152.6,475.1 156.3,480.6 160.1,485.1 163.8,486.5 167.5,488.3 171.2,494.1 174.9,497.7 178.6,496.6 182.3,492.3 186.1,490.5 189.8,482.8 193.5,476.9 197.2,473.1 200.9,470.7 204.6,467.2 208.3,462.1 212.1,454.4 215.8,447.6 219.5,444.5 223.2,437.5 226.9,430.6 230.6,431.9 234.3,431.1 238.1,433.3 241.8,435.8 245.5,437.7 249.2,440.1 252.9,432.9 256.6,430.4 260.3,426.8 264.1,427.3 267.8,432.6 271.5,440.3 275.2,444.9 278.9,450.8 282.6,455.5 286.3,459.9 290.1,461.0 293.8,460.1 297.5,458.2 301.2,457.0 304.9,455.8 308.6,458.7 312.3,462.0 316.1,465.6 319.8,464.5 323.5,458.4 327.2,451.5 330.9,448.2 334.6,443.6 338.3,442.7 342.0,443.5 345.8,435.5 349.5,428.7 353.2,423.4 356.9,420.3 360.6,419.7 364.3,420.0 368.0,417.4 371.8,416.7 375.5,417.7 379.2,415.4 382.9,414.9 386.6,413.5 390.3,407.7 394.0,401.3 397.8,395.0 401.5,392.6 405.2,391.2 408.9,388.0 412.6,387.2 416.3,387.5 420.0,384.8 423.8,383.0 427.5,383.3 431.2,382.2 434.9,380.3 438.6,372.4 442.3,369.2 446.0,363.3 449.8,357.8 453.5,350.4 457.2,339.9 460.9,334.1 464.6,332.4 468.3,331.8 472.0,335.2 475.8,338.1 479.5,343.6 483.2,349.6 486.9,356.3 490.6,360.2 494.3,366.2 498.0,370.3 501.8,372.6 505.5,375.6 509.2,374.0 512.9,372.6 516.6,374.8 520.3,380.1 524.0,385.1 527.7,386.9 531.5,387.5 535.2,388.8 538.9,386.0 542.6,381.3 546.3,380.2 550.0,381.7 553.7,381.3 557.5,384.6 561.2,387.9 564.9,392.3 568.6,395.5 572.3,399.8 576.0,401.1 579.7,402.1 583.5,404.1 587.2,409.9 590.9,416.4 594.6,419.7 598.3,424.2 602.0,428.5 605.7,433.0 609.5,436.4 613.2,439.2 616.9,439.5 620.6,437.6 624.3,437.7 628.0,434.5 631.7,431.7 635.5,429.0 639.2,424.3 642.9,417.0 646.6,411.8 650.3,408.9 654.0,405.9 657.7,402.8 661.5,400.2 665.2,395.5 668.9,390.7 672.6,388.6 676.3,391.0 680.0,394.4 683.7,396.7 687.5,396.0 691.2,393.2 694.9,391.0 698.6,386.5 702.3,383.1 706.0,378.4 709.7,375.3 713.4,372.5 717.2,373.4 720.9,374.7 724.6,374.3 728.3,373.8 732.0,374.2 735.7,376.7 739.4,378.9 743.2,386.2 746.9,391.3 750.6,394.0 754.3,397.9 758.0,402.3 761.7,396.8 765.4,390.5 769.2,384.0 772.9,383.7 776.6,383.2 780.3,379.7 784.0,380.8 787.7,381.3 791.4,381.4 795.2,382.4 798.9,380.8 802.6,377.0 806.3,375.8 810.0,372.8 813.7,367.8 817.4,364.0 821.2,359.4 824.9,361.3 828.6,360.7 832.3,363.9 836.0,364.2" fill="none" stroke="#ff0000" stroke-width="3" stroke-linejoin="round" shape-rendering="crispEdges"/>
<polyline points="0.4,414.8 4.1,411.4 7.8,408.3 11.5,405.5 15.2,403.0 18.9,401.3 22.6,400.7 26.4,401.4 30.1,403.0 33.8,405.1 37.5,407.9 41.2,410.9 44.9,413.9 48.6,417.2 52.4,420.1 56.1,422.4 59.8,423.8 63.5,424.6 67.2,424.6 70.9,424.1 74.6,423.2 78.4,422.3 82.1,420.9 85.8,419.2 89.5,417.3 93.2,415.4 96.9,413.8 100.6,412.9 104.4,412.6 108.1,412.9 111.8,414.1 115.5,416.2 119.2,419.2 122.9,422.8 126.6,427.3 130.3,432.3 134.1,437.8 137.8,443.4 141.5,448.6 145.2,453.1 148.9,457.2 152.6,461.5 156.3,465.8 160.1,470.0 163.8,473.4 167.5,476.3 171.2,479.2 174.9,482.5 178.6,486.0 182.3,488.5 186.1,490.2 189.8,490.4 193.5,489.5 197.2,488.0 200.9,486.1 204.6,483.1 208.3,479.1 212.1,474.4 215.8,469.5 219.5,464.4 223.2,459.3 226.9,454.2 230.6,449.6 234.3,445.2 238.1,441.4 241.8,438.5 245.5,436.7 249.2,435.8 252.9,434.5 256.6,433.7 260.3,433.3 264.1,432.8 267.8,433.0 271.5,433.8 275.2,434.8 278.9,436.2 282.6,437.9 286.3,440.9 290.1,444.3 293.8,448.0 297.5,451.5 301.2,454.2 304.9,455.9 308.6,457.4 312.3,458.7 316.1,459.8 319.8,460.3 323.5,460.0 327.2,459.1 330.9,458.0 334.6,456.5 338.3,455.0 342.0,453.3 345.8,450.4 349.5,446.3 353.2,441.7 356.9,437.5 360.6,434.0 364.3,430.8 368.0,427.9 371.8,425.0 375.5,422.1 379.2,419.9 382.9,418.4 386.6,417.3 390.3,415.9 394.0,413.8 397.8,411.1 401.5,408.3 405.2,405.5 408.9,402.2 412.6,399.0 416.3,396.0 420.0,392.8 423.8,390.1 427.5,388.1 431.2,386.6 434.9,385.3 438.6,383.2 442.3,381.1 446.0,378.5 449.8,375.1 453.5,371.3 457.2,366.5 460.9,361.1 464.6,355.5 468.3,350.1 472.0,346.0 475.8,342.6 479.5,340.4 483.2,339.5 486.9,340.1 490.6,342.4 494.3,345.9 498.0,350.1 501.8,354.7 505.5,359.2 509.2,363.2 512.9,366.4 516.6,369.2 520.3,371.8 524.0,374.6 527.7,376.9 531.5,378.8 535.2,380.6 538.9,381.8 542.6,382.6 546.3,383.4 550.0,384.2 553.7,384.3 557.5,384.3 561.2,384.4 564.9,384.9 568.6,385.6 572.3,387.2 576.0,389.4 579.7,391.8 583.5,394.3 587.2,397.5 590.9,401.0 594.6,404.5 598.3,408.1 602.0,411.7 605.7,415.4 609.5,419.4 613.2,423.5 616.9,427.4 620.6,430.5 624.3,432.9 628.0,434.5 631.7,435.3 635.5,435.4 639.2,434.4 642.9,432.3 646.6,429.2 650.3,425.8 654.0,422.3 657.7,418.4 661.5,414.6 665.2,410.6 668.9,406.4 672.6,402.4 676.3,399.5 680.0,397.6 683.7,396.2 687.5,395.1 691.2,394.0 694.9,393.0 698.6,392.0 702.3,391.2 706.0,390.0 709.7,388.3 713.4,385.9 717.2,383.3 720.9,380.9 724.6,378.8 728.3,376.9 732.0,375.5 735.7,374.8 739.4,374.9 743.2,376.1 746.9,378.2 750.6,380.5 754.3,383.0 758.0,386.1 761.7,388.7 765.4,390.5 769.2,391.3 772.9,391.8 776.6,391.5 780.3,390.2 784.0,388.7 787.7,386.9 791.4,384.6 795.2,383.0 798.9,381.9 802.6,381.1 806.3,380.3 810.0,379.1 813.7,377.8 817.4,375.9 821.2,373.5 824.9,371.3 828.6,368.9 832.3,367.0 836.0,365.6" fill="none" stroke="#0000ff" stroke-width="3" stroke-linejoin="round" shape-rendering="crispEdges"/>
<rect x="-1" y="401" width="3" height="12" fill="#00ff00"/>
<rect x="3" y="402" width="2" height="11" fill="#00ff00"/>
<rect x="6" y="404" width="3" height="9" fill="#00ff00"/>
<rect x="10" y="405" width="3" height="8" fill="#00ff00"/>
<rect x="14" y="407" width="3" height="6" fill="#00ff00"/>
<rect x="18" y="412" width="2" height="1" fill="#00ff00"/>
<rect x="21" y="414" width="3" height="3" fill="#00ff00"/>
<rect x="25" y="414" width="3" height="11" fill="#00ff00"/>
<rect x="29" y="414" width="2" height="13" fill="#00ff00"/>
<rect x="32" y="414" width="3" height="14" fill="#00ff00"/>
<rect x="36" y="414" width="3" height="15" fill="#00ff00"/>
<rect x="40" y="414" width="3" height="14" fill="#00ff00"/>
<rect x="44" y="414" width="2" height="9" fill="#00ff00"/>
<rect x="47" y="414" width="3" height="8" fill="#00ff00"/>
<rect x="51" y="414" width="3" height="4" fill="#00ff00"/>
<rect x="55" y="414" width="2" height="2" fill="#00ff00"/>
<rect x="58" y="414" width="3" height="1" fill="#00ff00"/>
<rect x="62" y="414" width="3" height="1" fill="#00ff00"/>
<rect x="66" y="410" width="3" height="3" fill="#00ff00"/>
<rect x="70" y="410" width="2" height="3" fill="#00ff00"/>
<rect x="73" y="409" width="3" height="4" fill="#00ff00"/>
<rect x="77" y="407" width="3" height="6" fill="#00ff00"/>
<rect x="81" y="406" width="2" height="7" fill="#00ff00"/>
<rect x="84" y="405" width="3" height="8" fill="#00ff00"/>
<rect x="88" y="405" width="3" height="8" fill="#00ff00"/>
<rect x="92" y="406" width="3" height="7" fill="#00ff00"/>
<rect x="96" y="411" width="2" height="2" fill="#00ff00"/>
<rect x="99" y="412" width="3" height="1" fill="#00ff00"/>
<rect x="103" y="414" width="3" height="3" fill="#00ff00"/>
<rect x="107" y="414" width="2" height="7" fill="#00ff00"/>
<rect x="110" y="414" width="3" height="11" fill="#00ff00"/>
<rect x="114" y="414" width="3" height="15" fill="#00ff00"/>
<rect x="118" y="414" width="3" height="17" fill="#00ff00"/>
<rect x="122" y="414" width="2" height="17" fill="#00ff00"/>
<rect x="125" y="414" width="3" height="19" fill="#00ff00"/>
<rect x="129" y="414" width="3" height="23" fill="#00ff00"/>
<rect x="133" y="414" width="2" height="24" fill="#00ff00"/>
<rect x="136" y="414" width="3" height="23" fill="#00ff00"/>
<rect x="140" y="414" width="3" height="18" fill="#00ff00"/>
<rect x="144" y="414" width="3" height="12" fill="#00ff00"/>
<rect x="148" y="414" width="2" height="11" fill="#00ff00"/>
<rect x="151" y="414" width="3" height="13" fill="#00ff00"/>
<rect x="155" y="414" width="3" height="14" fill="#00ff00"/>
<rect x="159" y="414" width="2" height="14" fill="#00ff00"/>
<rect x="162" y="414" width="3" height="12" fill="#00ff00"/>
<rect x="166" y="414" width="3" height="11" fill="#00ff00"/>
<rect x="170" y="414" width="3" height="14" fill="#00ff00"/>
<rect x="174" y="414" width="2" height="14" fill="#00ff00"/>
<rect x="177" y="414" width="3" height="10" fill="#00ff00"/>
<rect x="181" y="414" width="3" height="3" fill="#00ff00"/>
<rect x="185" y="414" width="2" height="1" fill="#00ff00"/>
<rect x="188" y="406" width="3" height="7" fill="#00ff00"/>
<rect x="192" y="401" width="3" height="12" fill="#00ff00"/>
<rect x="196" y="399" width="3" height="14" fill="#00ff00"/>
<rect x="200" y="399" width="2" height="14" fill="#00ff00"/>
<rect x="203" y="398" width="3" height="15" fill="#00ff00"/>
<rect x="207" y="397" width="3" height="16" fill="#00ff00"/>
<rect x="211" y="394" width="2" height="19" fill="#00ff00"/>
<rect x="214" y="392" width="3" height="21" fill="#00ff00"/>
<rect x="218" y="394" width="3" height="19" fill="#00ff00"/>
<rect x="222" y="392" width="3" height="21" fill="#00ff00"/>
<rect x="226" y="390" width="2" height="23" fill="#00ff00"/>
<rect x="229" y="396" width="3" height="17" fill="#00ff00"/>
<rect x="233" y="400" width="3" height="13" fill="#00ff00"/>
<rect x="237" y="406" width="2" height="7" fill="#00ff00"/>
<rect x="240" y="411" width="3" height="2" fill="#00ff00"/>
<rect x="244" y="414" width="3" height="1" fill="#00ff00"/>
<rect x="248" y="414" width="3" height="3" fill="#00ff00"/>
<rect x="252" y="412" width="2" height="1" fill="#00ff00"/>
<rect x="255" y="411" width="3" height="2" fill="#00ff00"/>
<rect x="259" y="408" width="3" height="5" fill="#00ff00"/>
<rect x="263" y="408" width="2" height="5" fill="#00ff00"/>
<rect x="266" y="412" width="3" height="1" fill="#00ff00"/>
<rect x="270" y="414" width="3" height="6" fill="#00ff00"/>
<rect x="274" y="414" width="3" height="9" fill="#00ff00"/>
<rect x="278" y="414" width="2" height="14" fill="#00ff00"/>
<rect x="281" y="414" width="3" height="17" fill="#00ff00"/>
<rect x="285" y="414" width="3" height="18" fill="#00ff00"/>
<rect x="289" y="414" width="2" height="16" fill="#00ff00"/>
<rect x="292" y="414" width="3" height="11" fill="#00ff00"/>
<rect x="296" y="414" width="3" height="6" fill="#00ff00"/>
<rect x="300" y="414" width="3" height="2" fill="#00ff00"/>
<rect x="304" y="412" width="2" height="1" fill="#00ff00"/>
<rect x="307" y="414" width="3" height="1" fill="#00ff00"/>
<rect x="311" y="414" width="3" height="2" fill="#00ff00"/>
<rect x="315" y="414" width="2" height="5" fill="#00ff00"/>
<rect x="318" y="414" width="3" height="3" fill="#00ff00"/>
<rect x="322" y="412" width="3" height="1" fill="#00ff00"/>
<rect x="326" y="406" width="3" height="7" fill="#00ff00"/>
<rect x="330" y="404" width="2" height="9" fill="#00ff00"/>
<rect x="333" y="401" width="3" height="12" fill="#00ff00"/>
<rect x="337" y="402" width="3" height="11" fill="#00ff00"/>
<rect x="341" y="404" width="2" height="9" fill="#00ff00"/>
<rect x="344" y="399" width="3" height="14" fill="#00ff00"/>
<rect x="348" y="396" width="3" height="17" fill="#00ff00"/>
<rect x="352" y="396" width="3" height="17" fill="#00ff00"/>
<rect x="356" y="397" width="2" height="16" fill="#00ff00"/>
<rect x="359" y="400" width="3" height="13" fill="#00ff00"/>
<rect x="363" y="403" width="3" height="10" fill="#00ff00"/>
<rect x="367" y="403" width="2" height="10" fill="#00ff00"/>
<rect x="370" y="406" width="3" height="7" fill="#00ff00"/>
<rect x="374" y="410" width="3" height="3" fill="#00ff00"/>
<rect x="378" y="410" width="3" height="3" fill="#00ff00"/>
<rect x="382" y="411" width="2" height="2" fill="#00ff00"/>
<rect x="385" y="410" width="3" height="3" fill="#00ff00"/>
<rect x="389" y="406" width="3" height="7" fill="#00ff00"/>
<rect x="393" y="401" width="2" height="12" fill="#00ff00"/>
<rect x="396" y="398" width="3" height="15" fill="#00ff00"/>
<rect x="400" y="398" width="3" height="15" fill="#00ff00"/>
<rect x="404" y="400" width="3" height="13" fill="#00ff00"/>
<rect x="408" y="400" width="2" height="13" fill="#00ff00"/>
<rect x="411" y="402" width="3" height="11" fill="#00ff00"/>
<rect x="415" y="406" width="3" height="7" fill="#00ff00"/>
<rect x="419" y="406" width="2" height="7" fill="#00ff00"/>
<rect x="422" y="407" width="3" height="6" fill="#00ff00"/>
<rect x="426" y="409" width="3" height="4" fill="#00ff00"/>
<rect x="430" y="410" width="3" height="3" fill="#00ff00"/>
<rect x="434" y="409" width="2" height="4" fill="#00ff00"/>
<rect x="437" y="403" width="3" height="10" fill="#00ff00"/>
<rect x="441" y="402" width="3" height="11" fill="#00ff00"/>
<rect x="445" y="399" width="2" height="14" fill="#00ff00"/>
<rect x="448" y="397" width="3" height="16" fill="#00ff00"/>
<rect x="452" y="393" width="3" height="20" fill="#00ff00"/>
<rect x="456" y="387" width="3" height="26" fill="#00ff00"/>
<rect x="460" y="387" width="2" height="26" fill="#00ff00"/>
<rect x="463" y="391" width="3" height="22" fill="#00ff00"/>
<rect x="467" y="396" width="3" height="17" fill="#00ff00"/>
<rect x="471" y="403" width="2" height="10" fill="#00ff00"/>
<rect x="474" y="410" width="3" height="3" fill="#00ff00"/>
<rect x="478" y="414" width="3" height="2" fill="#00ff00"/>
<rect x="482" y="414" width="2" height="9" fill="#00ff00"/>
<rect x="486" y="414" width="2" height="15" fill="#00ff00"/>
<rect x="489" y="414" width="3" height="17" fill="#00ff00"/>
<rect x="493" y="414" width="3" height="19" fill="#00ff00"/>
<rect x="497" y="414" width="2" height="19" fill="#00ff00"/>
<rect x="500" y="414" width="3" height="17" fill="#00ff00"/>
<rect x="504" y="414" width="3" height="15" fill="#00ff00"/>
<rect x="508" y="414" width="2" height="10" fill="#00ff00"/>
<rect x="512" y="414" width="2" height="5" fill="#00ff00"/>
<rect x="515" y="414" width="3" height="5" fill="#00ff00"/>
<rect x="519" y="414" width="3" height="7" fill="#00ff00"/>
<rect x="523" y="414" width="2" height="10" fill="#00ff00"/>
<rect x="526" y="414" width="3" height="9" fill="#00ff00"/>
<rect x="530" y="414" width="3" height="8" fill="#00ff00"/>
<rect x="534" y="414" width="2" height="7" fill="#00ff00"/>
<rect x="538" y="414" width="2" height="3" fill="#00ff00"/>
<rect x="541" y="412" width="3" height="1" fill="#00ff00"/>
<rect x="545" y="411" width="3" height="2" fill="#00ff00"/>
<rect x="549" y="411" width="2" height="2" fill="#00ff00"/>
<rect x="552" y="411" width="3" height="2" fill="#00ff00"/>
<rect x="556" y="414" width="3" height="1" fill="#00ff00"/>
<rect x="560" y="414" width="2" height="3" fill="#00ff00"/>
<rect x="564" y="414" width="2" height="6" fill="#00ff00"/>
<rect x="567" y="414" width="3" height="9" fill="#00ff00"/>
<rect x="571" y="414" width="3" height="12" fill="#00ff00"/>
<rect x="575" y="414" width="2" height="11" fill="#00ff00"/>
<rect x="578" y="414" width="3" height="9" fill="#00ff00"/>
<rect x="582" y="414" width="3" height="9" fill="#00ff00"/>
<rect x="586" y="414" width="2" height="11" fill="#00ff00"/>
<rect x="590" y="414" width="2" height="14" fill="#00ff00"/>
<rect x="593" y="414" width="3" height="14" fill="#00ff00"/>
<rect x="597" y="414" width="3" height="15" fill="#00ff00"/>
<rect x="601" y="414" width="2" height="16" fill="#00ff00"/>
<rect x="604" y="414" width="3" height="17" fill="#00ff00"/>
<rect x="608" y="414" width="3" height="16" fill="#00ff00"/>
<rect x="612" y="414" width="2" height="15" fill="#00ff00"/>
<rect x="616" y="414" width="2" height="11" fill="#00ff00"/>
<rect x="619" y="414" width="3" height="6" fill="#00ff00"/>
<rect x="623" y="414" width="3" height="4" fill="#00ff00"/>
<rect x="627" y="414" width="2" height="1" fill="#00ff00"/>
<rect x="630" y="410" width="3" height="3" fill="#00ff00"/>
<rect x="634" y="408" width="3" height="5" fill="#00ff00"/>
<rect x="638" y="404" width="2" height="9" fill="#00ff00"/>
<rect x="642" y="399" width="2" height="14" fill="#00ff00"/>
<rect x="645" y="397" width="3" height="16" fill="#00ff00"/>
<rect x="649" y="397" width="3" height="16" fill="#00ff00"/>
<rect x="653" y="398" width="2" height="15" fill="#00ff00"/>
<rect x="656" y="398" width="3" height="15" fill="#00ff00"/>
<rect x="660" y="400" width="3" height="13" fill="#00ff00"/>
<rect x="664" y="399" width="2" height="14" fill="#00ff00"/>
<rect x="668" y="398" width="2" height="15" fill="#00ff00"/>
<rect x="671" y="400" width="3" height="13" fill="#00ff00"/>
<rect x="675" y="406" width="3" height="7" fill="#00ff00"/>
<rect x="679" y="411" width="2" height="2" fill="#00ff00"/>
<rect x="682" y="414" width="3" height="1" fill="#00ff00"/>
<rect x="686" y="414" width="3" height="1" fill="#00ff00"/>
<rect x="690" y="412" width="2" height="1" fill="#00ff00"/>
<rect x="694" y="412" width="2" height="1" fill="#00ff00"/>
<rect x="697" y="408" width="3" height="5" fill="#00ff00"/>
<rect x="701" y="406" width="3" height="7" fill="#00ff00"/>
<rect x="705" y="402" width="2" height="11" fill="#00ff00"/>
<rect x="708" y="401" width="3" height="12" fill="#00ff00"/>
<rect x="712" y="401" width="3" height="12" fill="#00ff00"/>
<rect x="716" y="404" width="2" height="9" fill="#00ff00"/>
<rect x="720" y="408" width="2" height="5" fill="#00ff00"/>
<rect x="723" y="410" width="3" height="3" fill="#00ff00"/>
<rect x="727" y="411" width="3" height="2" fill="#00ff00"/>
<rect x="731" y="412" width="2" height="1" fill="#00ff00"/>
<rect x="734" y="414" width="3" height="1" fill="#00ff00"/>
<rect x="738" y="414" width="3" height="3" fill="#00ff00"/>
<rect x="742" y="414" width="2" height="9" fill="#00ff00"/>
<rect x="746" y="414" width="2" height="12" fill="#00ff00"/>
<rect x="749" y="414" width="3" height="13" fill="#00ff00"/>
<rect x="753" y="414" width="3" height="14" fill="#00ff00"/>
<rect x="757" y="414" width="2" height="15" fill="#00ff00"/>
<rect x="760" y="414" width="3" height="7" fill="#00ff00"/>
<rect x="764" y="412" width="3" height="1" fill="#00ff00"/>
<rect x="768" y="407" width="2" height="6" fill="#00ff00"/>
<rect x="772" y="406" width="2" height="7" fill="#00ff00"/>
<rect x="775" y="406" width="3" height="7" fill="#00ff00"/>
<rect x="779" y="403" width="3" height="10" fill="#00ff00"/>
<rect x="783" y="406" width="2" height="7" fill="#00ff00"/>
<rect x="786" y="408" width="3" height="5" fill="#00ff00"/>
<rect x="790" y="411" width="3" height="2" fill="#00ff00"/>
<rect x="794" y="412" width="2" height="1" fill="#00ff00"/>
<rect x="798" y="412" width="2" height="1" fill="#00ff00"/>
<rect x="801" y="410" width="3" height="3" fill="#00ff00"/>
<rect x="805" y="410" width="3" height="3" fill="#00ff00"/>
<rect x="809" y="408" width="2" height="5" fill="#00ff00"/>
<rect x="812" y="404" width="3" height="9" fill="#00ff00"/>
<rect x="816" y="402" width="3" height="11" fill="#00ff00"/>
<rect x="820" y="400" width="2" height="13" fill="#00ff00"/>
<rect x="824" y="404" width="2" height="9" fill="#00ff00"/>
<rect x="827" y="406" width="3" height="7" fill="#00ff00"/>
<rect x="831" y="411" width="3" height="2" fill="#00ff00"/>
<rect x="835" y="412" width="2" height="1" fill="#00ff00"/>
<rect x="0" y="413" width="882" height="1" fill="#00ff00"/>
<rect x="37" y="410" width="488" height="3" fill="#000"/><rect x="525" y="409" width="357" height="3" fill="#000"/><rect x="525" y="412" width="357" height="1" fill="#fff"/>
<line x1="180.7" y1="495.9" x2="324.1" y2="465.5" stroke="#000" stroke-width="3.4"/>
<line x1="337" y1="368.5" x2="376" y2="403" stroke="#e3151b" stroke-width="4.6" stroke-linecap="round"/>
<ellipse cx="386.6" cy="415.3" rx="18.2" ry="13.3" fill="none" stroke="#e3151b" stroke-width="4" transform="rotate(-4 386.6 415.3)"/>
<text x="235.5" y="120.7" font-size="23.7" font-weight="bold" fill="#000" stroke="#000" stroke-width="0.35" textLength="53.1" lengthAdjust="spacingAndGlyphs">1668</text>
<text x="296" y="120.7" font-size="23.7" font-weight="bold" fill="#000" stroke="#000" stroke-width="0.35" textLength="33.8" lengthAdjust="spacingAndGlyphs">Pip</text>
<text x="338.3" y="120.7" font-size="23.7" font-weight="bold" fill="#000" stroke="#000" stroke-width="0.35" textLength="93.8" lengthAdjust="spacingAndGlyphs">Reversal</text>
<text x="48.4" y="260.2" font-size="24.4" font-weight="bold" fill="#000" stroke="#000" stroke-width="0.35" textLength="81.3" lengthAdjust="spacingAndGlyphs">Decline</text>
<text x="138.5" y="260.2" font-size="24.4" font-weight="bold" fill="#000" stroke="#000" stroke-width="0.35" textLength="17.6" lengthAdjust="spacingAndGlyphs">in</text>
<text x="165.8" y="260.2" font-size="24.4" font-weight="bold" fill="#000" stroke="#000" stroke-width="0.35" textLength="63.5" lengthAdjust="spacingAndGlyphs">Prices</text>
<text x="681.4" y="258.8" font-size="28.9" font-weight="bold" fill="#000" stroke="#000" stroke-width="0.35" textLength="108.9" lengthAdjust="spacingAndGlyphs">EURUSD</text>
<text x="798.8" y="258.8" font-size="28.9" font-weight="bold" fill="#000" stroke="#000" stroke-width="0.35" textLength="65.7" lengthAdjust="spacingAndGlyphs">Daily</text>
<text x="155" y="365.2" font-size="25.1" font-weight="bold" fill="#000" stroke="#000" stroke-width="0.35" textLength="50.0" lengthAdjust="spacingAndGlyphs">Zero</text>
<text x="214.2" y="365.2" font-size="25.1" font-weight="bold" fill="#000" stroke="#000" stroke-width="0.35" textLength="43.6" lengthAdjust="spacingAndGlyphs">Line</text>
<text x="265.7" y="365.2" font-size="25.1" font-weight="bold" fill="#000" stroke="#000" stroke-width="0.35" textLength="111.7" lengthAdjust="spacingAndGlyphs">Crossover</text>
<text x="392.1" y="486.7" font-size="24.3" font-weight="bold" fill="#000" stroke="#000" stroke-width="0.35" textLength="114.4" lengthAdjust="spacingAndGlyphs">Advancing</text>
<text x="515" y="486.7" font-size="24.3" font-weight="bold" fill="#000" stroke="#000" stroke-width="0.35" textLength="67.9" lengthAdjust="spacingAndGlyphs">MACD</text>
<text x="591.4" y="486.7" font-size="24.3" font-weight="bold" fill="#000" stroke="#000" stroke-width="0.35" textLength="97.2" lengthAdjust="spacingAndGlyphs">Indicator</text>
</svg></body></html>
